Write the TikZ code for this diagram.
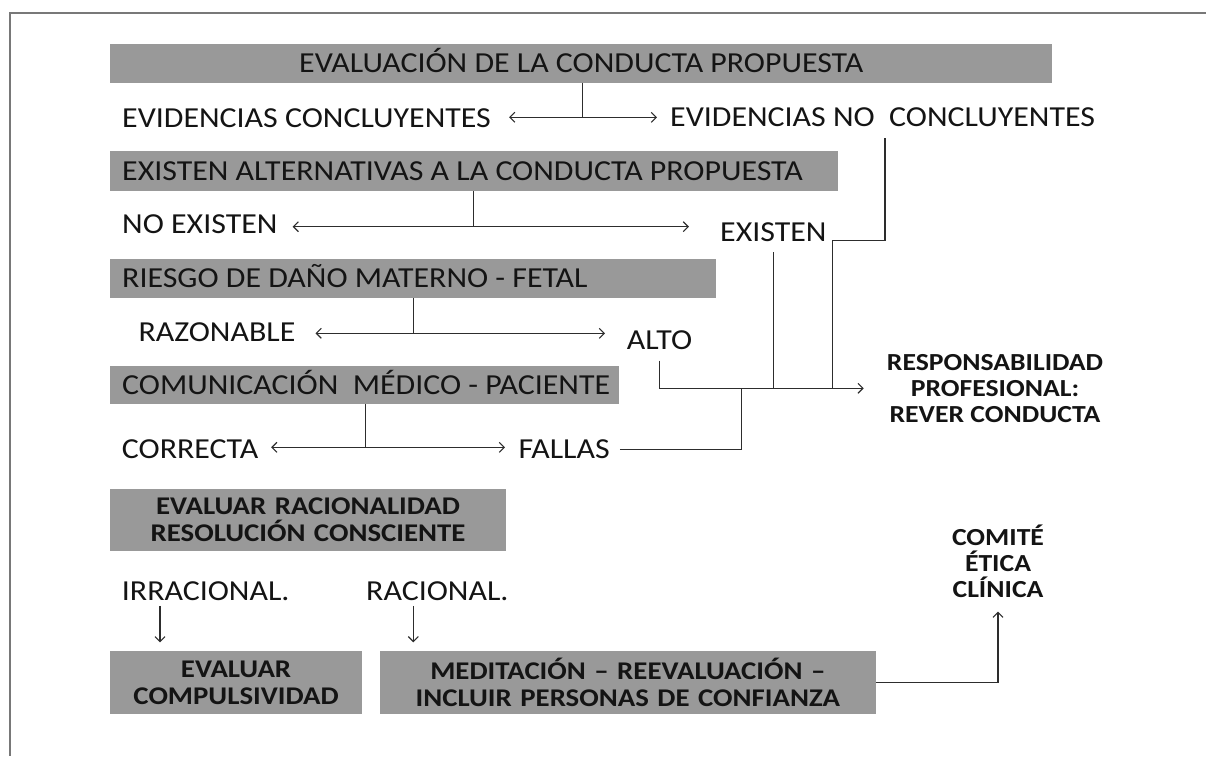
\documentclass[tikz,border=0pt]{standalone}
\usepackage{fontspec}
\setmainfont{Carlito}[FakeStretch=1.1]
\newfontfamily\bfam{Carlito}[FakeStretch=1.13]
\usetikzlibrary{arrows.meta}
\definecolor{boxgray}{RGB}{153,153,153}
\definecolor{linegray}{RGB}{45,45,45}
\definecolor{framegray}{RGB}{120,120,120}
\definecolor{txt}{RGB}{20,20,20}
\tikzset{
  reg/.style={font=\fontsize{29}{32}\selectfont, text=txt},
  gbox/.style={fill=boxgray, anchor=north west, inner xsep=12pt, inner ysep=0pt,
    text height=18.3pt, text depth=0pt, reg},
  lbl/.style={anchor=west, inner sep=0pt, text height=18.3pt, text depth=0pt, reg},
  bbox/.style={fill=boxgray, anchor=north west, inner sep=0pt, align=center, text=txt,
    font=\bfam\bfseries\fontsize{25.5}{27}\selectfont},
  btxt/.style={inner sep=0pt, align=center, text=txt,
    font=\bfam\bfseries\fontsize{24.5}{26}\selectfont},
  con/.style={draw=linegray, line width=1.1pt},
  arr/.style={con, -{Straight Barb[length=5pt,width=10pt]}},
}
\begin{document}
\begin{tikzpicture}[x=1pt,y=-1pt]
\useasboundingbox (0,0) rectangle (1206,756);
\draw[framegray, line width=2pt] (1206,13.3) -- (10.3,13.3) -- (10.3,756);

% grey boxes
\node[gbox, minimum width=942pt, minimum height=39pt] (b1) at (110,43.3) {\makebox[918pt][c]{EVALUACIÓN DE LA CONDUCTA PROPUESTA}};
\node[gbox, minimum width=727.3pt, minimum height=40pt] (b2) at (110,150.7) {\makebox[703.3pt][l]{EXISTEN ALTERNATIVAS A LA CONDUCTA PROPUESTA}};
\node[gbox, minimum width=606pt, minimum height=39pt] (b3) at (110,258.5) {\makebox[582pt][l]{RIESGO DE DAÑO MATERNO - FETAL}};
\node[gbox, minimum width=509pt, minimum height=38pt] (b4) at (110,366) {\makebox[485pt][l]{COMUNICACIÓN\ \ MÉDICO - PACIENTE}};
\node[bbox, minimum width=395.7pt, text width=395.7pt, minimum height=62.7pt] (b5) at (110,488.3) {EVALUAR RACIONALIDAD\\RESOLUCIÓN CONSCIENTE};
\node[bbox, minimum width=251.7pt, text width=251.7pt, minimum height=62.3pt] (b6) at (110,651) {EVALUAR\\COMPULSIVIDAD};
\node[bbox, minimum width=496.7pt, text width=496.7pt, minimum height=62.3pt] (b7) at (379.3,651) {MEDITACIÓN – REEVALUACIÓN –\\INCLUIR PERSONAS DE CONFIANZA};

% labels
\node[lbl] (evc) at (122,118.3) {EVIDENCIAS CONCLUYENTES};
\node[lbl] (evnc) at (670,117.5) {EVIDENCIAS NO\ \ CONCLUYENTES};
\node[lbl] (noex) at (122,224.2) {NO EXISTEN};
\node[lbl] (ex) at (720,232.5) {EXISTEN};
\node[lbl] (raz) at (138.3,332.8) {RAZONABLE};
\node[lbl] (alto) at (626.7,340.5) {ALTO};
\node[lbl] (corr) at (121.7,449.2) {CORRECTA};
\node[lbl] (fallas) at (518.3,449.2) {FALLAS};
\node[lbl] (irr) at (121.7,591.7) {IRRACIONAL.};
\node[lbl] (rac) at (366,591.7) {RACIONAL.};
\node[btxt] (resp) at (995,388.3) {RESPONSABILIDAD\\PROFESIONAL:\\REVER CONDUCTA};
\node[btxt] (comite) at (998,561) {COMITÉ\\ÉTICA\\CLÍNICA};

% junctions
\coordinate (j1) at (582.3,117.3);
\coordinate (j2) at (473.3,226.7);
\coordinate (j3) at (413.3,333.3);
\coordinate (j4) at (365.3,447.3);
\coordinate (k1) at (885,240.7);
\coordinate (k2) at (832.3,240.7);
\coordinate (k3) at (741.7,388.3);

% branch connectors
\draw[con] (b1.south -| j1) -- (j1);
\draw[arr, shorten >=18pt] (j1) -- (evc.east |- j1);
\draw[arr, shorten >=13pt] (j1) -- (evnc.west |- j1);

\draw[con] (b2.south -| j2) -- (j2);
\draw[arr, shorten >=15pt] (j2) -- (noex.east |- j2);
\draw[arr, shorten >=31pt] (j2) -- (ex.west |- j2);

\draw[con] (b3.south -| j3) -- (j3);
\draw[arr, shorten >=20pt] (j3) -- (raz.east |- j3);
\draw[arr, shorten >=21.7pt] (j3) -- (alto.west |- j3);

\draw[con] (b4.south -| j4) -- (j4);
\draw[arr, shorten >=12.7pt] (j4) -- (corr.east |- j4);
\draw[arr, shorten >=13.3pt] (j4) -- (fallas.west |- j4);

% to responsabilidad
\draw[arr, shorten <=10.7pt, shorten >=23pt] (alto.south) |- (resp.west);
\draw[con, shorten <=10.6pt] (ex.south) -- (ex.south |- resp.west);
\draw[con, shorten <=11.6pt] (evnc.south -| k1) -- (k1) -- (k2) -- (k2 |- resp.west);
\draw[con, shorten <=10pt] (fallas.east) -| (k3);

% lower part
\draw[arr, shorten <=4.8pt, shorten >=8.7pt] ([xshift=38.3pt]irr.south west) -- ([xshift=38.3pt]irr.south west |- b6.north);
\draw[arr, shorten <=4.8pt, shorten >=8.7pt] ([xshift=47.3pt]rac.south west) -- ([xshift=47.3pt]rac.south west |- b7.north);
\draw[arr, shorten >=14pt] (b7.east) -| (comite.south);
\end{tikzpicture}
\end{document}
